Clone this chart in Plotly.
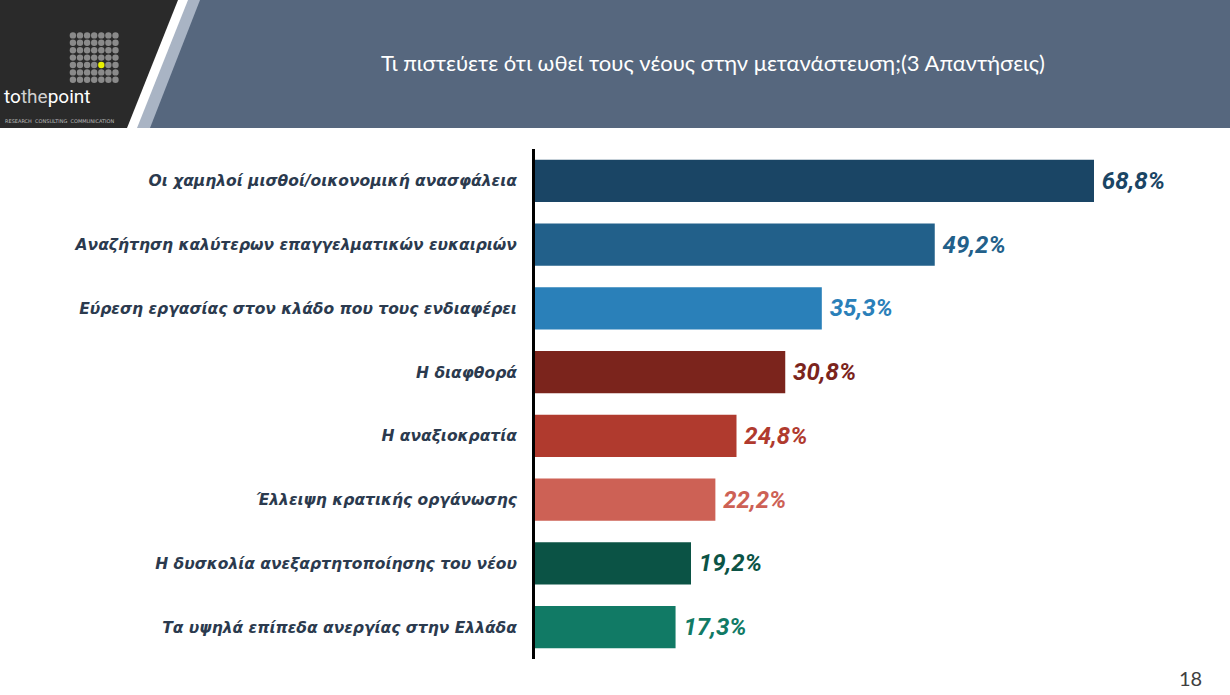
import plotly.graph_objects as go

categories = [
    "Οι χαμηλοί μισθοί/οικονομική ανασφάλεια",
    "Αναζήτηση καλύτερων επαγγελματικών ευκαιριών",
    "Εύρεση εργασίας στον κλάδο που τους ενδιαφέρει",
    "Η διαφθορά",
    "Η αναξιοκρατία",
    "Έλλειψη κρατικής οργάνωσης",
    "Η δυσκολία ανεξαρτητοποίησης του νέου",
    "Τα υψηλά επίπεδα ανεργίας στην Ελλάδα",
]
values = [68.8, 49.2, 35.3, 30.8, 24.8, 22.2, 19.2, 17.3]
colors = ["#1a4565", "#22608a", "#2a80b9", "#7b241c", "#b03a2e", "#cd6155", "#0b5345", "#117a65"]
title_text = "Τι πιστεύετε ότι ωθεί τους νέους στην μετανάστευση;(3 Απαντήσεις)"
page_number = "18"

W, H = 1230, 695
L, R, T, B = 535, 15, 149, 36
PW, PH = W - L - R, H - T - B


def px(x):
    return (x - L) / PW


def py(y):
    return (H - B - y) / PH


fig = go.Figure(
    go.Bar(
        y=categories,
        x=values,
        orientation="h",
        marker=dict(color=colors, line=dict(width=0)),
        width=0.66,
        text=values,
        texttemplate="\u2009%{x:.1f}%",
        textposition="outside",
        textfont=dict(color=colors, size=24, family="Roboto, Arial", weight="bold", style="italic"),
        cliponaxis=False,
        hoverinfo="skip",
    )
)

shapes = []
# header background
shapes.append(dict(type="rect", xref="paper", yref="paper", x0=px(0), x1=px(W), y0=py(128), y1=py(0),
                   fillcolor="#56677e", line=dict(width=0), layer="above"))
# light stripe
shapes.append(dict(type="path", xref="paper", yref="paper",
                   path=f"M {px(0)},{py(0)} L {px(200)},{py(0)} L {px(150)},{py(128)} L {px(0)},{py(128)} Z",
                   fillcolor="#a9b4c4", line=dict(width=0), layer="above"))
# white stripe
shapes.append(dict(type="path", xref="paper", yref="paper",
                   path=f"M {px(0)},{py(0)} L {px(188)},{py(0)} L {px(137)},{py(128)} L {px(0)},{py(128)} Z",
                   fillcolor="#ffffff", line=dict(width=0), layer="above"))
# dark logo area
shapes.append(dict(type="path", xref="paper", yref="paper",
                   path=f"M {px(0)},{py(0)} L {px(178)},{py(0)} L {px(127)},{py(128)} L {px(0)},{py(128)} Z",
                   fillcolor="#2a2a2a", line=dict(width=0), layer="above"))
# dot grid
for r in range(7):
    for c in range(7):
        cx = 72.9 + c * 7.1
        cy = 35.4 + r * 7.4
        col = "#e8f000" if (r == 4 and c == 4) else "#8a8a8a"
        shapes.append(dict(type="circle", xref="paper", yref="paper",
                           x0=px(cx - 3.2), x1=px(cx + 3.2), y0=py(cy + 3.2), y1=py(cy - 3.2),
                           fillcolor=col, line=dict(width=0), layer="above"))

annotations = [
    dict(text=title_text, xref="paper", yref="paper", x=px(713), y=py(63), showarrow=False,
         xanchor="center", yanchor="middle",
         font=dict(color="#ffffff", size=22, family="Lato, Open Sans, sans-serif")),
    dict(text="to<span style='color:#d0d0d0'>the</span>point", xref="paper", yref="paper", x=px(2), y=py(97),
         showarrow=False, xanchor="left", yanchor="middle",
         font=dict(color="#ffffff", size=19, family="Roboto, sans-serif")),
    dict(text="RESEARCH  CONSULTING  COMMUNICATION", xref="paper", yref="paper", x=px(3), y=py(121),
         showarrow=False, xanchor="left", yanchor="middle",
         font=dict(color="#bbbbbb", size=5, family="DejaVu Sans, sans-serif")),
    dict(text=page_number, xref="paper", yref="paper", x=px(1190), y=py(678), showarrow=False,
         xanchor="center", yanchor="middle",
         font=dict(color="#404040", size=20, family="Lato, Open Sans, sans-serif")),
]

fig.update_layout(
    width=W, height=H,
    margin=dict(l=L, r=R, t=T, b=B, pad=0),
    paper_bgcolor="#ffffff", plot_bgcolor="#ffffff",
    separators=",.",
    showlegend=False,
    bargap=0.34,
    shapes=shapes,
    annotations=annotations,
    xaxis=dict(range=[0, PW / 8.125], visible=False, showgrid=False, zeroline=False, fixedrange=True),
    yaxis=dict(autorange="reversed", showline=True, linecolor="#000000", linewidth=3,
               ticks="", showgrid=False, ticklabelstandoff=12,
               tickfont=dict(color="#2b3a4e", size=15.5, family="DejaVu Sans, Verdana, sans-serif",
                             weight="bold", style="italic"),
               fixedrange=True),
)

fig.write_html("out.html")
